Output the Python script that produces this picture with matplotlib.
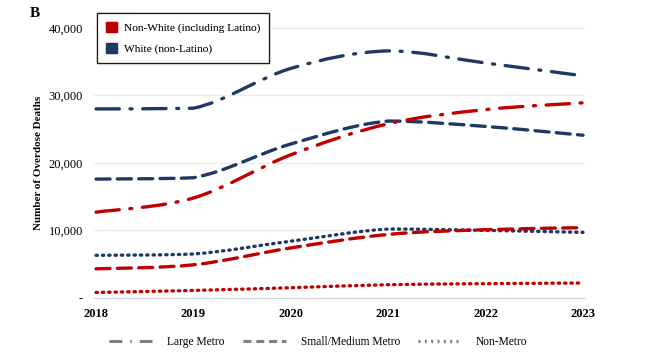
import numpy as np
import matplotlib.pyplot as plt
from matplotlib.path import Path
from matplotlib.patches import PathPatch, Patch
from matplotlib.lines import Line2D

plt.rcParams['font.family'] = ['Liberation Serif', 'DejaVu Serif']

years = [2018, 2019, 2020, 2021, 2022, 2023]

# White (non-Latino)
white_large = [28000, 28100, 34000, 36600, 34800, 32900]
white_small = [17600, 17800, 22800, 26200, 25400, 24100]
white_non = [6300, 6500, 8400, 10200, 10000, 9700]

# Non-White (including Latino)
nonwhite_large = [12700, 14800, 21200, 25800, 27900, 28900]
nonwhite_small = [4300, 4900, 7400, 9400, 10100, 10400]
nonwhite_non = [800, 1100, 1500, 1950, 2100, 2200]

red = '#C00000'
navy = '#203864'
grey = '#7F7F7F'

styles = {
    'large': (0, (7, 3.2, 0.6, 3.2)),
    'small': (0, (4.2, 2.2)),
    'non': (0, (0.4, 1.5)),
}


def smooth_path(x, y):
    # Excel-like smoothed line: bezier through the points,
    # control points kept inside each segment's range (no overshoot)
    x = np.asarray(x, float)
    y = np.asarray(y, float)
    n = len(x)
    verts = [(x[0], y[0])]
    codes = [Path.MOVETO]
    for i in range(n - 1):
        a, b = max(i - 1, 0), min(i + 2, n - 1)
        lo, hi = min(y[i], y[i + 1]), max(y[i], y[i + 1])
        c1y = np.clip(y[i] + (y[i + 1] - y[a]) / 6.0, lo, hi)
        c2y = np.clip(y[i + 1] - (y[b] - y[i]) / 6.0, lo, hi)
        c1x = x[i] + (x[i + 1] - x[a]) / 6.0
        c2x = x[i + 1] - (x[b] - x[i]) / 6.0
        verts += [(c1x, c1y), (c2x, c2y), (x[i + 1], y[i + 1])]
        codes += [Path.CURVE4] * 3
    return Path(verts, codes)


fig = plt.figure(figsize=(6.58, 3.58), dpi=100)
ax = fig.add_axes([0.143, 0.168, 0.746, 0.754])

series = [
    (white_large, navy, 'large'),
    (white_small, navy, 'small'),
    (white_non, navy, 'non'),
    (nonwhite_large, red, 'large'),
    (nonwhite_small, red, 'small'),
    (nonwhite_non, red, 'non'),
]
for vals, col, kind in series:
    p = PathPatch(smooth_path(years, vals), facecolor='none', edgecolor=col,
                  lw=2.4, linestyle=styles[kind], capstyle='round', zorder=3)
    ax.add_patch(p)

ax.set_xlim(2017.98, 2023.02)
ax.set_ylim(0, 40000)
ax.set_xticks(years)
ax.set_xticklabels([str(y) for y in years], fontweight='bold', fontsize=9)
ax.set_yticks([0, 10000, 20000, 30000, 40000])
ax.set_yticklabels(['-', '10,000', '20,000', '30,000', '40,000'], fontsize=9)
ax.tick_params(length=0, pad=7)
ax.tick_params(axis='y', pad=8)
ax.grid(axis='y', color='#EBEBEB', lw=0.8, zorder=0)
for s in ['top', 'right', 'left']:
    ax.spines[s].set_visible(False)
ax.spines['bottom'].set_color('#D9D9D9')
ax.spines['bottom'].set_linewidth(1.0)

ax.set_ylabel('Number of Overdose Deaths', fontweight='bold', fontsize=8, labelpad=4)

fig.text(0.045, 0.98, 'B', fontweight='bold', fontsize=11, va='top')

# race legend
race_handles = [Patch(facecolor=red, edgecolor=red), Patch(facecolor=navy, edgecolor=navy)]
leg1 = ax.legend(race_handles, ['Non-White (including Latino)', 'White (non-Latino)'],
                 loc='upper left', bbox_to_anchor=(-0.005, 1.075), fontsize=8.2,
                 frameon=True, fancybox=False, edgecolor='black', handlelength=1.0,
                 handleheight=1.0, borderpad=0.75, labelspacing=0.85, handletextpad=0.6)
leg1.get_frame().set_linewidth(0.9)
ax.add_artist(leg1)

# geography legend
geo_handles = [Line2D([], [], color=grey, lw=2.2, linestyle=(0, (4.2, 2.6, 0.5, 2.6))),
               Line2D([], [], color=grey, lw=2.2, linestyle=(0, (2.6, 1.6))),
               Line2D([], [], color=grey, lw=2.4, linestyle=(0, (0.6, 1.3)))]
fig.legend(geo_handles, ['Large Metro', 'Small/Medium Metro', 'Non-Metro'],
           loc='center', bbox_to_anchor=(0.484, 0.045), ncol=3, frameon=False,
           fontsize=8.3, handlelength=3.7, handletextpad=1.3, columnspacing=1.6)

fig.savefig('out.png', dpi=100)
